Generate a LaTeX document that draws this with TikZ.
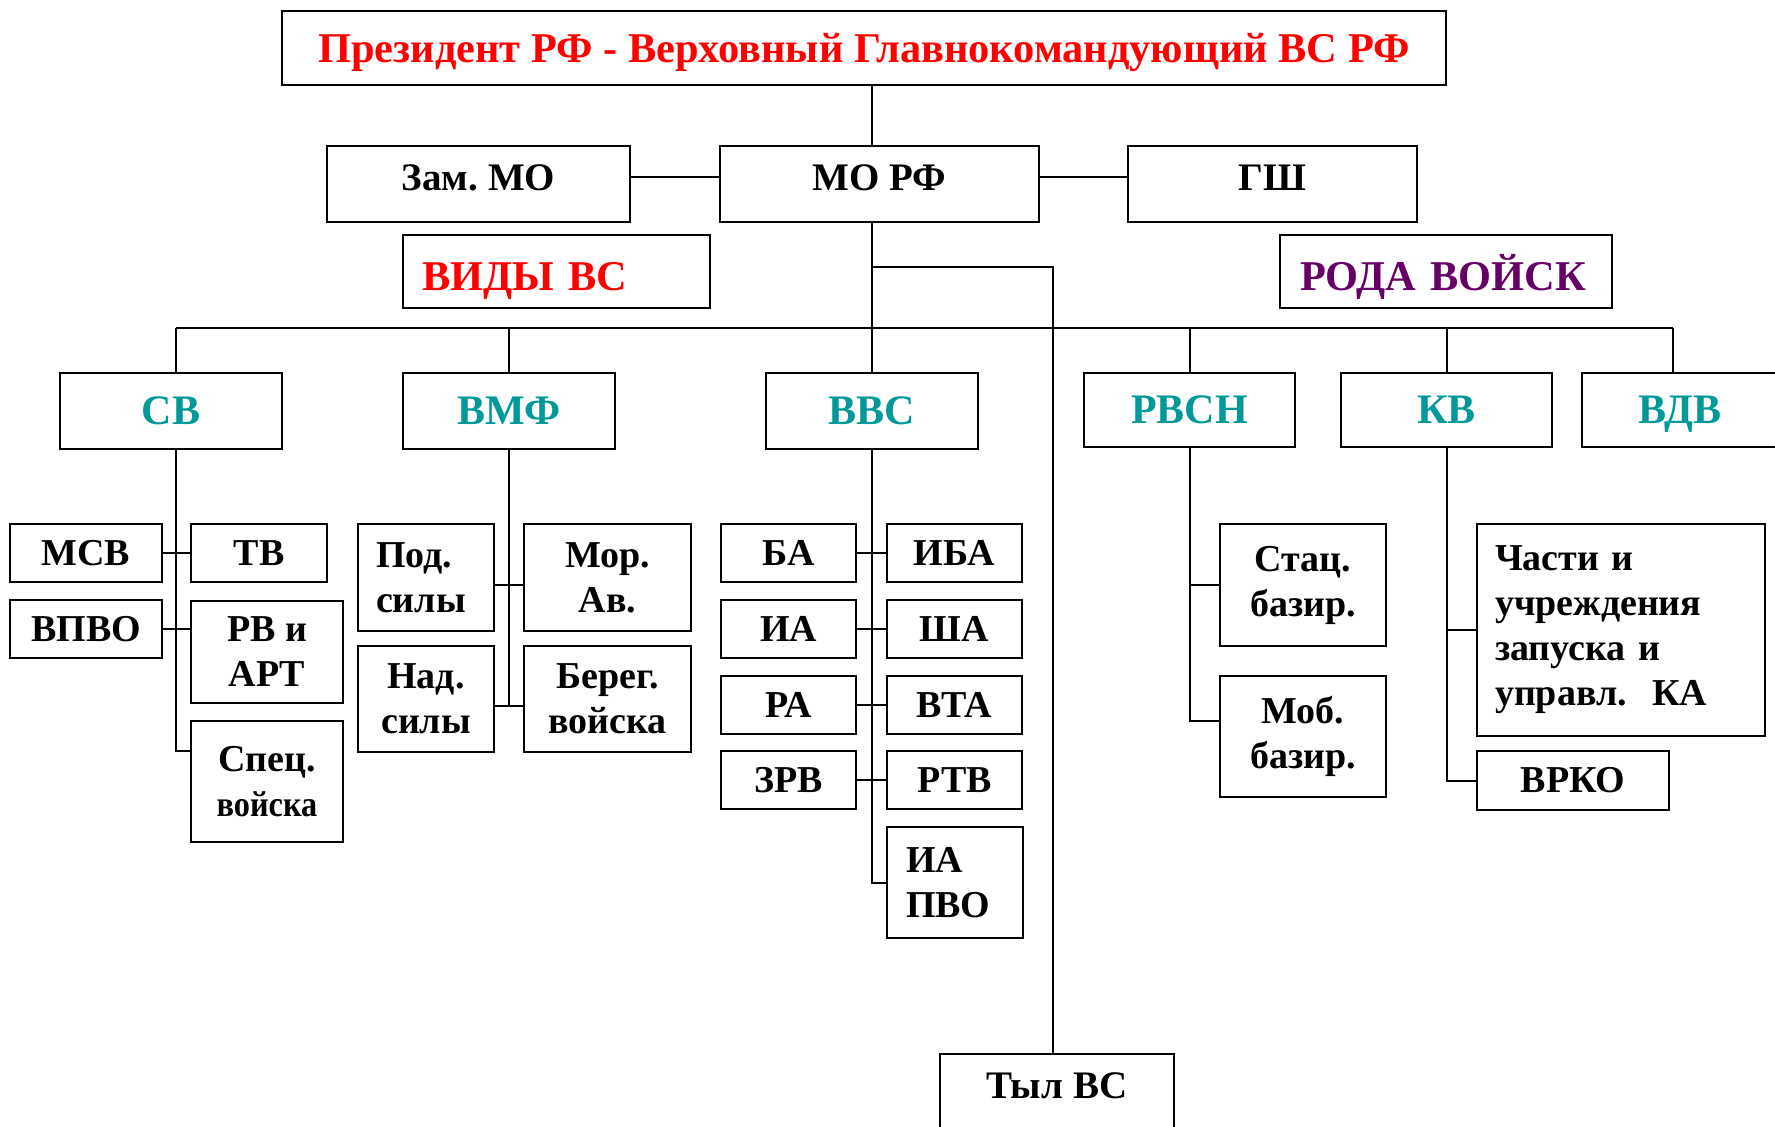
\documentclass[tikz,border=0pt]{standalone}
\usepackage{fontspec}
\setmainfont{Liberation Serif}
\usepackage{graphicx}
\definecolor{vidred}{RGB}{255,0,0}
\definecolor{rodpurple}{RGB}{102,0,102}
\definecolor{vidteal}{RGB}{0,153,153}
\frenchspacing

\begin{document}
\begin{tikzpicture}[x=0.5pt,y=-0.5pt]
\tikzset{
  box/.style={rectangle,draw,line width=1pt,inner sep=0pt},
  topbox/.style={box,text depth=0pt,font=\fontsize{21.2}{25}\selectfont\bfseries},
  headbox/.style={topbox,text height=18.5pt,minimum height=36.5pt,align=left},
  midbox/.style={box,font=\fontsize{19.5}{23}\selectfont\bfseries,minimum height=38pt,text depth=6pt},
  branch/.style={box,text depth=0pt,text=vidteal,font=\fontsize{21}{25}\selectfont\bfseries,minimum height=38pt,minimum width=106pt},
  subbox/.style={box,align=center,font=\fontsize{19}{22.5}\selectfont\bfseries},
  link/.style={line width=1pt}
}
\useasboundingbox (0,0) rectangle (1775,1126);
\fill[white] (0,0) rectangle (1775,1126);
\clip (0,0) rectangle (1775,1126);

\node[topbox,text=vidred,minimum width=582pt,minimum height=37pt](pres) at (864,48) {Президент РФ - Верховный Главнокомандующий ВС РФ};
\node[midbox,minimum width=151.5pt](zam) at (478.5,184) {Зам. МО};
\node[midbox,minimum width=159.5pt](mo) at (879.5,184) {МО РФ};
\node[midbox,minimum width=144.5pt](gsh) at (1272.5,184) {ГШ};
\node[headbox,text=vidred,text width=134.5pt,inner xsep=9.5pt](vidy) at (556.5,271.5) {ВИДЫ ВС};
\node[headbox,text=rodpurple,text width=146pt,inner xsep=10pt](roda) at (1446,271.5) {РОДА ВОЙСК};

\node[branch,minimum width=111pt](sv) at (171,411) {СВ};
\node[branch](vmf) at (509,411) {ВМФ};
\node[branch](vvs) at (872,411) {ВВС};
\node[branch,minimum width=105.5pt,minimum height=37pt](rvsn) at (1189.5,410) {РВСН};
\node[branch,minimum width=105.5pt,minimum height=37pt](kv) at (1446.5,410) {КВ};
\node[branch,minimum width=98pt,minimum height=37pt](vdv) at (1680,410) {ВДВ};

\node[subbox,minimum width=76pt,minimum height=29pt](msv) at (86,553) {МСВ};
\node[subbox,minimum width=76pt,minimum height=29pt](vpvo) at (86,629) {ВПВО};
\node[subbox,minimum width=68pt,minimum height=29pt](tv) at (259,553) {ТВ};
\node[subbox,minimum width=76pt,minimum height=51pt](rv) at (267,652) {РВ и\\АРТ};
\node[subbox,minimum width=76pt,minimum height=60.5pt](spec) at (267,781.5) {Спец.\\\scalebox{0.85}[0.95]{войска}};

\node[subbox,text width=50pt,inner xsep=9pt,minimum height=53.5pt,align=left](pod) at (426,577.5) {Под.\\силы};
\node[subbox,minimum width=83.5pt,minimum height=53.5pt](mor) at (607.5,577.5) {Мор.\\Ав.};
\node[subbox,minimum width=68pt,minimum height=53pt](nad) at (426,699) {Над.\\силы};
\node[subbox,minimum width=83.5pt,minimum height=53pt](bereg) at (607.5,699) {Берег.\\войска};

\node[subbox,minimum width=67.5pt,minimum height=29pt](ba) at (788.5,553) {БА};
\node[subbox,minimum width=67.5pt,minimum height=29pt](iba) at (954.5,553) {ИБА};
\node[subbox,minimum width=67.5pt,minimum height=29pt](ia) at (788.5,629) {ИА};
\node[subbox,minimum width=67.5pt,minimum height=29pt](sha) at (954.5,629) {ША};
\node[subbox,minimum width=67.5pt,minimum height=29pt](ra) at (788.5,705) {РА};
\node[subbox,minimum width=67.5pt,minimum height=29pt](vta) at (954.5,705) {ВТА};
\node[subbox,minimum width=67.5pt,minimum height=29pt](zrv) at (788.5,780) {ЗРВ};
\node[subbox,minimum width=67.5pt,minimum height=29pt](rtv) at (954.5,780) {РТВ};
\node[subbox,text width=49pt,inner xsep=9.5pt,minimum height=55.5pt,align=left](iapvo) at (955,882.5) {ИА\\ПВО};

\node[subbox,minimum width=83pt,minimum height=61pt](stac) at (1303,585) {Стац.\\базир.};
\node[subbox,minimum width=83pt,minimum height=60.5pt](mob) at (1303,736.5) {Моб.\\базир.};
\node[subbox,text width=126pt,inner xsep=9pt,minimum height=106pt,align=left](chasti) at (1621,630) {Части и\\учреждения\\запуска и\\управл.~~КА};
\node[subbox,minimum width=96pt,minimum height=29.5pt](vrko) at (1573,780.5) {ВРКО};

\node[midbox,minimum width=117pt](tyl) at (1057,1092) {Тыл ВС};

\coordinate (busL) at (176,328);
\coordinate (busR) at (1673,328);
\coordinate (tylx) at (1053,267);

\draw[link] (pres.south -| vvs) -- (mo.north -| vvs);
\draw[link] (mo.south -| vvs) -- (vvs.north);
\draw[link] ([yshift=3.5pt]zam.east) -- ([yshift=3.5pt]mo.west);
\draw[link] ([yshift=3.5pt]mo.east) -- ([yshift=3.5pt]gsh.west);
\draw[link] (tylx -| vvs) -- (tylx) -- (tylx |- tyl.north);
\draw[link] (busL) -- (busR);
\draw[link] (busL) -- (busL |- sv.north);
\draw[link] (vmf.north |- busL) -- (vmf.north);
\draw[link] (rvsn.north |- busL) -- (rvsn.north);
\draw[link] (kv.north |- busL) -- (kv.north);
\draw[link] (busR) -- (busR |- vdv.north);

\draw[link] (busL |- sv.south) |- ([yshift=-15.5pt]spec.north west);
\draw[link] (msv.east) -- (tv.west);
\draw[link] (vpvo.east) -- (vpvo.east -| rv.west);

\draw[link] (vmf.south) |- ([yshift=-3.5pt]bereg.west);
\draw[link] ([yshift=-3.5pt]pod.east) -- ([yshift=-3.5pt]mor.west);
\draw[link] ([yshift=-3.5pt]nad.east) -- ([yshift=-3.5pt]bereg.west);

\draw[link] (vvs.south) |- (iapvo.west);
\foreach \a/\b in {ba/iba,ia/sha,ra/vta,zrv/rtv}
  \draw[link] (\a.east) -- (\b.west);

\draw[link] (rvsn.south) |- ([yshift=7.75pt]mob.west);
\draw[link] (rvsn.south |- stac.west) -- (stac.west);
\draw[link] (kv.south) |- (vrko.west);
\draw[link] (kv.south |- chasti.west) -- (chasti.west);
\end{tikzpicture}
\end{document}
